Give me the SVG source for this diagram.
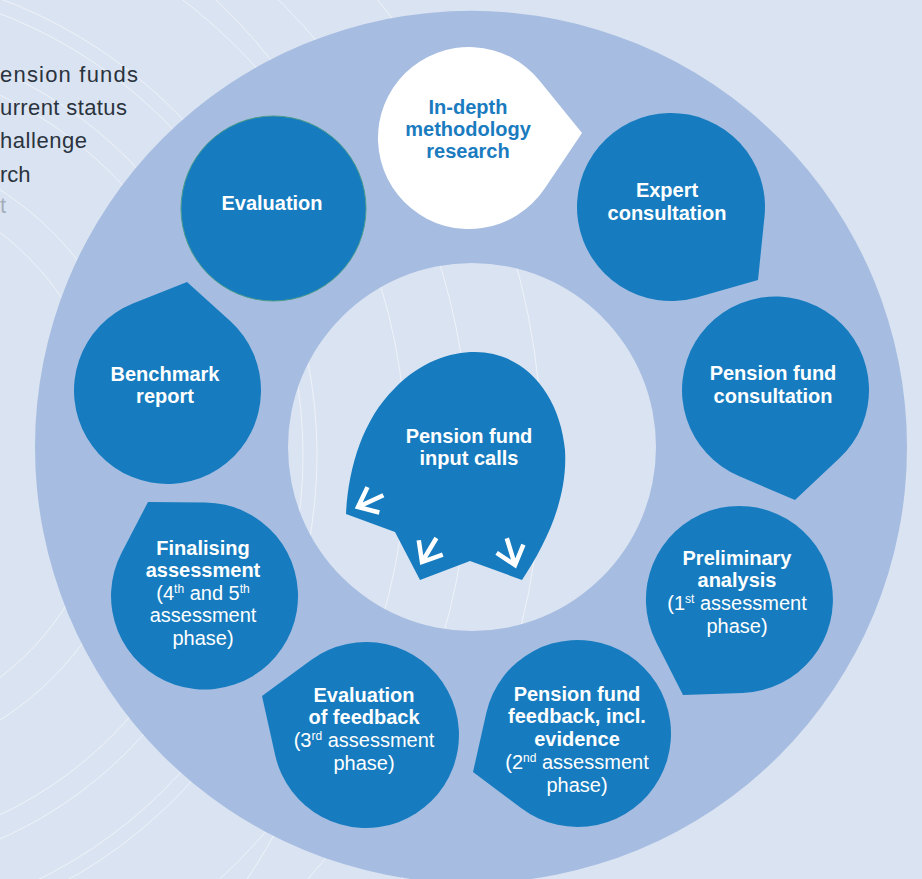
<svg xmlns="http://www.w3.org/2000/svg" width="922" height="879" viewBox="0 0 922 879">
  <style>
    .bg { fill: #dae3f1; }
    .ripple { fill: none; stroke: #ffffff; stroke-width: 1; opacity: 0.55; }
    .ring { fill: #a6bde1; fill-rule: evenodd; }
    .node { fill: #167cbf; }
    .node-light { fill: #ffffff; }
    .lbl { font-family: "Liberation Sans", Arial, sans-serif; font-size: 20px; fill: #ffffff; text-anchor: middle; }
    .dark { fill: #1a7bbf; }
    .b { font-weight: bold; }
    .sup { font-size: 12px; }
    .side { font-family: "Liberation Sans", Arial, sans-serif; font-size: 22px; fill: #2a333e; }
    .arrow { fill: none; stroke: #ffffff; stroke-width: 4.5; stroke-linejoin: miter; stroke-linecap: butt; }
  </style>
  <defs>
    <!-- arrow with its tip at the origin, shaft along +x -->
    <path id="arrowhead" class="arrow" d="M17,-14 L0,0 L17,14 M0,0 L28,0"/>
  </defs>

  <!-- backdrop -->
  <rect class="bg" x="0" y="0" width="922" height="879"/>
  <g id="ripples">
    <circle class="ripple" cx="-170" cy="455" r="280"/>
    <circle class="ripple" cx="-170" cy="455" r="315"/>
    <circle class="ripple" cx="-170" cy="455" r="398"/>
    <circle class="ripple" cx="-170" cy="455" r="420"/>
    <circle class="ripple" cx="-170" cy="455" r="473"/>
    <circle class="ripple" cx="-170" cy="455" r="487"/>
    <circle class="ripple" cx="-170" cy="455" r="576"/>
    <circle class="ripple" cx="-170" cy="455" r="639"/>
    <circle class="ripple" cx="-170" cy="455" r="712"/>
    <path class="ripple" d="M200,-15 A597,597 0 0 1 330,150"/>
    <path class="ripple" d="M236,895 A595,595 0 0 0 292,800"/>
  </g>

  <!-- side list -->
  <g id="side-list">
    <text class="side" x="0" y="82" textLength="138" lengthAdjust="spacing">ension funds</text>
    <text class="side" x="0" y="115" textLength="127" lengthAdjust="spacing">urrent status</text>
    <text class="side" x="0" y="148" textLength="87" lengthAdjust="spacing">hallenge</text>
    <text class="side" x="0" y="182">rch</text>
    <text class="side" x="0" y="213" opacity="0.3">t</text>
  </g>

  <!-- process ring -->
  <path id="ring" class="ring" d="M35,447 A436,436 0 1 0 907,447 A436,436 0 1 0 35,447 Z M288,447 A184,184 0 1 0 656,447 A184,184 0 1 0 288,447 Z"/>

  <g id="node-research">
    <path class="node-light" d="M582,133 L544.5,188.8 A91,91 0 1 1 539.8,80.9 Z"/>
    <text class="lbl b dark" x="468" y="114">In-depth</text>
    <text class="lbl b dark" x="468" y="136">methodology</text>
    <text class="lbl b dark" x="468" y="158">research</text>
  </g>

  <g id="node-expert">
    <path class="node" d="M758,280 L696.6,297.4 A94,94 0 1 1 764.5,216.5 Z"/>
    <text class="lbl b" x="667" y="197">Expert</text>
    <text class="lbl b" x="667" y="220">consultation</text>
  </g>

  <g id="node-fund-consultation">
    <path class="node" d="M795,500 L738.8,476 A93.5,93.5 0 1 1 839.6,458.1 Z"/>
    <text class="lbl b" x="773" y="380">Pension fund</text>
    <text class="lbl b" x="773" y="403">consultation</text>
  </g>

  <g id="node-preliminary">
    <path class="node" d="M683,695 L656,641.7 A93.5,93.5 0 1 1 742.8,692.9 Z"/>
    <text class="lbl b" x="737" y="565">Preliminary</text>
    <text class="lbl b" x="737" y="587">analysis</text>
    <text class="lbl" x="737" y="610">(1<tspan class="sup" dy="-7">st</tspan><tspan dy="7"> assessment</tspan></text>
    <text class="lbl" x="737" y="633">phase)</text>
  </g>

  <g id="node-fund-feedback">
    <path class="node" d="M473,772 L486.3,712.9 A93.5,93.5 0 1 1 521.4,808.3 Z"/>
    <text class="lbl b" x="577" y="701">Pension fund</text>
    <text class="lbl b" x="577" y="723">feedback, incl.</text>
    <text class="lbl b" x="577" y="746">evidence</text>
    <text class="lbl" x="577" y="769">(2<tspan class="sup" dy="-7">nd</tspan><tspan dy="7"> assessment</tspan></text>
    <text class="lbl" x="577" y="792">phase)</text>
  </g>

  <g id="node-feedback-evaluation">
    <path class="node" d="M262,696 L311.1,659.9 A93,93 0 1 1 275.2,755.3 Z"/>
    <text class="lbl b" x="364" y="702">Evaluation</text>
    <text class="lbl b" x="364" y="724">of feedback</text>
    <text class="lbl" x="364" y="747">(3<tspan class="sup" dy="-7">rd</tspan><tspan dy="7"> assessment</tspan></text>
    <text class="lbl" x="364" y="770">phase)</text>
  </g>

  <g id="node-finalising">
    <path class="node" d="M148,502 L205.3,502.5 A93.5,93.5 0 1 1 121.6,552.8 Z"/>
    <text class="lbl b" x="203" y="555">Finalising</text>
    <text class="lbl b" x="203" y="577">assessment</text>
    <text class="lbl" x="203" y="600">(4<tspan class="sup" dy="-7">th</tspan><tspan dy="7"> and 5</tspan><tspan class="sup" dy="-7">th</tspan></text>
    <text class="lbl" x="203" y="622">assessment</text>
    <text class="lbl" x="203" y="645">phase)</text>
  </g>

  <g id="node-benchmark">
    <path class="node" d="M187,282 L230.2,321.1 A93.5,93.5 0 1 1 132.9,303.6 Z"/>
    <text class="lbl b" x="165" y="381">Benchmark</text>
    <text class="lbl b" x="165" y="403">report</text>
  </g>

  <g id="node-evaluation">
    <circle class="node" cx="273.5" cy="208.5" r="92.5" stroke="#4b9c8c" stroke-width="1"/>
    <text class="lbl b" x="272" y="210">Evaluation</text>
  </g>

  <g id="node-input-calls">
    <path class="node" d="M346,514 C348,470 362,420 395,388 C420,362 450,352 475,352 C525,352 560,395 565,450 C568,500 545,545 522,580 L470,561 L420,580 L395,532 Z"/>
    <text class="lbl b" x="469" y="443">Pension fund</text>
    <text class="lbl b" x="469" y="465">input calls</text>
  </g>

  <g id="connectors">
    <use href="#arrowhead" transform="translate(358,507) rotate(-25)"/>
    <use href="#arrowhead" transform="translate(422,562) rotate(-59)"/>
    <use href="#arrowhead" transform="translate(515,565) rotate(-107)"/>
  </g>
</svg>
